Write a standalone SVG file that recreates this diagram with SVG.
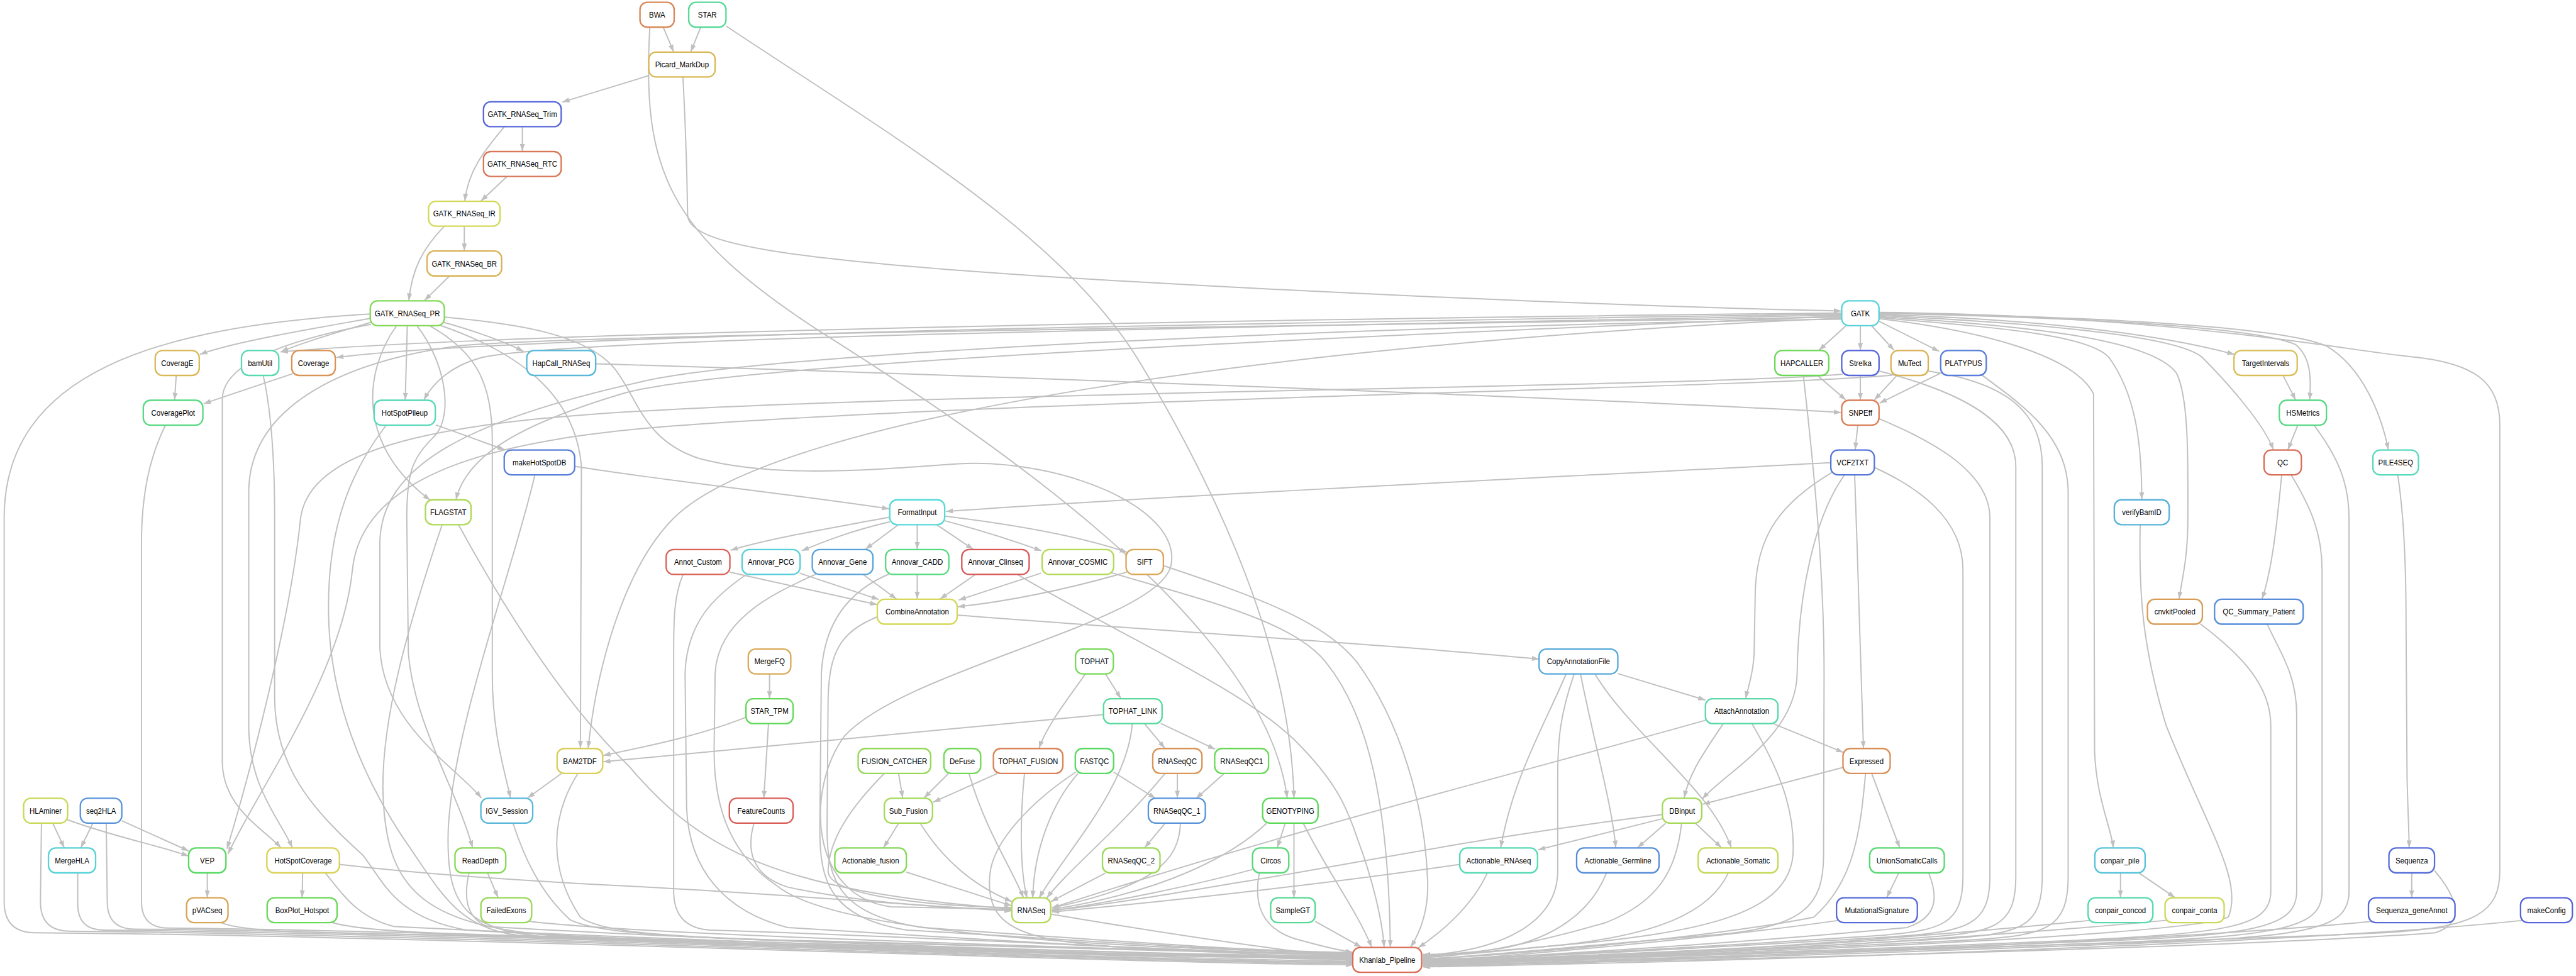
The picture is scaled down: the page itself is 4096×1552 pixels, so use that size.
<svg xmlns="http://www.w3.org/2000/svg" width="4096" height="1552" viewBox="0 0 4096 1552">
<defs>
<marker id="ah" viewBox="0 0 10 7" refX="10" refY="3.5" markerWidth="14" markerHeight="10" markerUnits="userSpaceOnUse" orient="auto"><path d="M0,0 L10,3.5 L0,7 z" fill="#c0c0c0"/></marker>
</defs>
<style>
.n rect{fill:#fff;stroke-width:2.8}
.n text{font-family:"Liberation Sans",Arial,sans-serif;font-size:15.5px;fill:#000;text-anchor:middle;transform-box:fill-box;transform-origin:center;transform:scaleX(0.9)}
.e path{fill:none;stroke:#c0c0c0;stroke-width:2.4;marker-end:url(#ah)}
</style>
<rect width="4096" height="1552" fill="#fff"/>
<g transform="scale(0.82398)">
<g id="edges" class="e">
<path d="M1280 53 L1300 100"/>
<path d="M1352 53 L1333 100"/>
<path d="M1254 53 C1238 330 1290 450 1583 640 C1900 840 2440 1200 2484 1540"/>
<path d="M1401 50 C1700 250 2050 450 2200 700 C2350 950 2490 1250 2497 1540"/>
<path d="M1252 146 L1085 197"/>
<path d="M1318 149 C1326 300 1326 380 1327 416 C1330 470 1500 500 2040 535 C2700 575 3300 595 3553 600"/>
<path d="M1008 245 L1008 292"/>
<path d="M973 245 C935 290 903 330 897 388"/>
<path d="M978 341 L928 388"/>
<path d="M896 437 L896 484"/>
<path d="M857 437 C815 480 795 520 789 580"/>
<path d="M867 533 L819 580"/>
<path d="M716 614 C600 635 450 660 386 684"/>
<path d="M716 622 C640 645 580 662 542 679"/>
<path d="M856 622 C920 640 975 660 1010 678"/>
<path d="M786 629 L782 772"/>
<path d="M765 629 C700 720 690 860 830 965"/>
<path d="M716 626 C560 655 430 700 429 770 L429 1470 C430 1560 510 1600 542 1636"/>
<path d="M850 628 C1000 680 1110 760 1122 900 L1120 1444"/>
<path d="M805 629 C860 700 875 800 840 840 C795 885 785 910 785 1000 L788 1260 C800 1400 880 1520 912 1636"/>
<path d="M830 629 C920 680 950 740 950 850 L950 1300 C950 1420 975 1490 985 1540"/>
<path d="M858 612 C1000 625 1130 645 1185 710 C1230 765 1240 850 1350 885 C1500 925 1700 905 1850 895 C2050 885 2280 980 2260 1090 C2240 1200 1750 1290 1630 1420 C1555 1520 1560 1730 1720 1750 L1952 1755"/>
<path d="M716 606 C300 630 8 720 8 1000 L8 1740 Q8 1800 68 1800 C800 1805 2200 1860 2611 1862"/>
<path d="M3553 604 C2500 615 1000 640 542 679"/>
<path d="M3553 606 C2500 622 1000 645 649 690"/>
<path d="M3553 608 C2500 630 1100 650 930 690 C870 705 835 740 818 772"/>
<path d="M3553 610 C2600 650 1400 700 1200 760 C1000 820 900 880 880 964"/>
<path d="M3553 612 C2500 630 1100 645 880 668 C650 700 480 790 480 950 L480 1400 C480 1520 540 1580 564 1636"/>
<path d="M3553 614 C2500 660 1500 800 1300 1000 C1200 1100 1150 1300 1135 1444"/>
<path d="M3553 616 C2600 630 1500 680 1250 734 C900 810 733 900 733 1050 L733 1250 C740 1400 880 1480 929 1540"/>
<path d="M3562 629 L3510 676"/>
<path d="M3590 629 L3590 676"/>
<path d="M3612 629 L3655 676"/>
<path d="M3626 620 L3742 678"/>
<path d="M3626 607 C3900 615 4150 640 4312 684"/>
<path d="M3626 605 C4000 612 4350 630 4430 665 C4460 690 4460 730 4457 772"/>
<path d="M3626 609 C3900 622 4200 645 4250 690 C4300 740 4370 820 4387 868"/>
<path d="M3626 604 C4000 610 4400 628 4490 668 C4560 710 4595 800 4609 868"/>
<path d="M3626 613 C3850 632 4030 645 4070 690 C4120 760 4133 850 4133 964"/>
<path d="M3626 611 C3900 628 4150 652 4200 720 C4225 770 4222 900 4222 1000 C4222 1080 4210 1120 4205 1156"/>
<path d="M3626 615 C3800 635 4000 680 4040 760 L4042 1450 C4045 1540 4075 1600 4078 1636"/>
<path d="M3626 603 C4200 608 4550 680 4650 688 C4780 700 4824 740 4824 820 L4824 1680 C4824 1760 4780 1790 4600 1800 C3900 1830 3100 1848 2746 1852"/>
<path d="M3508 725 L3562 772"/>
<path d="M3590 725 L3590 772"/>
<path d="M3660 725 L3617 772"/>
<path d="M3745 720 L3627 778"/>
<path d="M1150 702 C1800 722 3000 765 3553 796"/>
<path d="M3480 725 C3500 900 3520 1100 3520 1300 L3519 1650 C3519 1750 3480 1790 3300 1805 C3000 1830 2850 1846 2746 1851"/>
<path d="M3585 821 L3580 868"/>
<path d="M3617 902 C3700 940 3788 1000 3788 1100 L3788 1690 C3788 1784 3750 1796 3620 1806 C3200 1833 2900 1848 2746 1852"/>
<path d="M3626 808 C3700 840 3840 900 3840 1000 L3840 1690 C3840 1785 3800 1798 3650 1808 C3200 1835 2900 1849 2746 1853"/>
<path d="M3626 716 C3800 760 3890 820 3890 900 L3890 1690 C3890 1790 3850 1800 3700 1810 C3300 1836 2900 1850 2746 1855"/>
<path d="M3721 716 C3880 740 3941 800 3941 900 L3941 1690 C3941 1792 3900 1802 3750 1812 C3300 1838 2900 1851 2746 1856"/>
<path d="M3822 722 C3900 780 3991 840 3991 950 L3991 1690 C3991 1794 3950 1805 3800 1814 C3300 1840 2900 1852 2746 1857"/>
<path d="M3533 893 C3000 920 2200 960 1825 987"/>
<path d="M3535 912 C3420 980 3388 1050 3387 1150 L3385 1260 C3384 1300 3372 1330 3369 1348"/>
<path d="M3559 917 C3500 1000 3470 1150 3468 1300 C3466 1420 3330 1490 3285 1542"/>
<path d="M3579 917 C3586 1100 3590 1300 3596 1444"/>
<path d="M1109 900 C1300 930 1500 950 1716 982"/>
<path d="M1032 917 C990 1100 875 1400 865 1600 C860 1760 900 1800 1100 1812 C1600 1830 2300 1848 2611 1846"/>
<path d="M841 820 L974 868"/>
<path d="M745 821 C660 930 632 1050 634 1183 C636 1350 700 1500 780 1620 C850 1720 880 1790 1000 1805 C1500 1830 2300 1848 2611 1848"/>
<path d="M853 1013 C790 1200 730 1400 740 1550 C750 1720 820 1790 1100 1808 C1700 1832 2300 1846 2611 1847"/>
<path d="M885 1013 C960 1150 1080 1350 1215 1480 C1350 1640 1500 1720 1952 1754"/>
<path d="M340 725 L337 772"/>
<path d="M565 721 L393 779"/>
<path d="M319 821 C290 880 273 950 273 1050 L273 1740 Q273 1791 325 1791 C950 1796 2200 1852 2611 1855"/>
<path d="M80 1589 L78 1740 Q78 1797 135 1797 C800 1802 2200 1858 2611 1860"/>
<path d="M205 1589 L207 1740 Q207 1793 260 1793 C900 1798 2200 1855 2611 1857"/>
<path d="M150 1685 L150 1745 Q150 1795 200 1795 C850 1800 2200 1856 2611 1858"/>
<path d="M425 1780 C470 1800 600 1800 900 1805 C1600 1820 2300 1848 2611 1853"/>
<path d="M508 725 C525 800 530 900 530 1000 L530 1350 C532 1480 600 1560 700 1650 C740 1700 760 1770 900 1795 C1500 1830 2200 1845 2611 1851"/>
<path d="M640 1780 C700 1798 850 1802 1100 1808 C1700 1824 2300 1846 2611 1850"/>
<path d="M628 1685 C665 1730 690 1770 760 1788 C1300 1815 2200 1845 2611 1849"/>
<path d="M905 1685 C895 1730 898 1770 940 1788 C1400 1815 2200 1843 2611 1845"/>
<path d="M1020 1778 C1200 1800 1900 1825 2611 1843"/>
<path d="M990 1589 C1010 1650 1040 1720 1100 1775 C1150 1800 1300 1808 1500 1815 C2000 1830 2400 1842 2611 1844"/>
<path d="M1115 1493 C1060 1580 1060 1680 1120 1770 C1160 1800 1300 1808 1500 1814 C2000 1830 2400 1841 2611 1843"/>
<path d="M1318 1109 C1300 1150 1300 1200 1300 1260 L1300 1720 Q1300 1790 1370 1795 C1900 1812 2300 1838 2611 1842"/>
<path d="M1440 1109 C1380 1150 1325 1200 1322 1300 L1325 1560 C1330 1680 1400 1760 1520 1790 C2000 1820 2300 1838 2611 1841"/>
<path d="M1575 1108 C1480 1150 1385 1200 1380 1300 L1378 1450 C1378 1560 1410 1650 1500 1710 C1600 1790 2000 1826 2611 1840"/>
<path d="M1715 1108 C1640 1140 1590 1200 1585 1300 L1582 1600 C1582 1700 1600 1770 1750 1795 C2100 1815 2400 1838 2611 1839"/>
<path d="M1694 1190 C1620 1220 1600 1260 1598 1350 L1596 1600 C1596 1700 1620 1765 1780 1790 C2100 1812 2400 1836 2611 1838"/>
<path d="M2076 1490 C2000 1540 1915 1620 1910 1690 C1900 1810 2000 1822 2300 1835 C2450 1843 2550 1847 2611 1848"/>
<path d="M2027 1764 C2300 1810 2500 1838 2611 1847"/>
<path d="M2430 1685 C2420 1740 2430 1790 2500 1812 C2550 1826 2590 1835 2611 1838"/>
<path d="M1962 1108 C2150 1220 2400 1330 2500 1430 C2580 1510 2600 1560 2620 1620 C2650 1700 2668 1780 2671 1828"/>
<path d="M2140 1104 C2330 1160 2500 1200 2560 1280 C2640 1380 2680 1550 2683 1828"/>
<path d="M2246 1092 C2420 1150 2560 1200 2620 1280 C2700 1390 2750 1550 2755 1700 C2757 1760 2740 1800 2722 1828"/>
<path d="M3038 1300 C3010 1380 3006 1430 3006 1500 L3006 1680 C3006 1780 2900 1835 2746 1844"/>
<path d="M3381 1397 C3430 1480 3465 1560 3460 1650 C3450 1760 3300 1800 3000 1825 C2900 1835 2800 1845 2746 1847"/>
<path d="M3245 1589 C3235 1680 3200 1740 3100 1780 C2950 1825 2820 1845 2746 1848"/>
<path d="M3600 1493 C3590 1600 3580 1700 3500 1770 C3300 1810 2900 1845 2746 1850"/>
<path d="M2870 1685 C2840 1750 2780 1800 2737 1829"/>
<path d="M3100 1685 C3070 1760 3000 1810 2900 1830 C2830 1840 2780 1842 2746 1842"/>
<path d="M3335 1685 C3300 1760 3200 1805 3000 1825 C2880 1836 2800 1843 2746 1845"/>
<path d="M3612 1493 L3666 1636"/>
<path d="M3557 1481 L3286 1552"/>
<path d="M3664 1685 L3641 1732"/>
<path d="M3722 1685 C3740 1730 3740 1770 3680 1790 C3300 1825 2900 1848 2746 1854"/>
<path d="M3550 1776 C3300 1812 2900 1846 2746 1856"/>
<path d="M4130 1012 C4127 1150 4135 1250 4180 1400 C4260 1600 4330 1700 4300 1770 C4200 1810 3200 1845 2746 1858"/>
<path d="M4246 1204 C4320 1260 4382 1320 4382 1400 L4382 1720 C4382 1790 4300 1800 4000 1815 C3400 1840 2900 1855 2746 1858"/>
<path d="M4375 1204 C4400 1260 4432 1300 4432 1380 L4432 1720 C4432 1792 4350 1806 4000 1818 C3400 1842 2900 1856 2746 1859"/>
<path d="M4421 916 C4460 980 4481 1030 4481 1100 L4481 1720 C4481 1795 4400 1808 4000 1822 C3400 1845 2900 1858 2746 1860"/>
<path d="M4403 917 C4395 1000 4385 1100 4365 1156"/>
<path d="M4434 821 L4415 868"/>
<path d="M4465 820 C4510 880 4533 930 4533 1000 L4533 1720 C4533 1800 4450 1810 4000 1825 C3400 1848 2900 1860 2746 1862"/>
<path d="M4406 725 L4430 772"/>
<path d="M4627 917 C4640 1000 4643 1100 4643 1200 L4645 1500 C4647 1580 4649 1610 4649 1636"/>
<path d="M4654 1685 L4654 1732"/>
<path d="M4698 1680 C4740 1730 4760 1780 4700 1800 C4300 1830 3300 1852 2746 1864"/>
<path d="M4580 1778 C4200 1815 3300 1850 2746 1865"/>
<path d="M4870 1776 C4500 1816 3500 1853 2746 1866"/>
<path d="M4092 1685 L4092 1732"/>
<path d="M4128 1685 L4197 1732"/>
<path d="M4035 1776 C3700 1810 3200 1845 2746 1860"/>
<path d="M4182 1776 C3800 1812 3200 1847 2746 1861"/>
<path d="M1734 1589 L1705 1636"/>
<path d="M1776 1589 C1820 1660 1880 1710 1953 1740"/>
<path d="M1749 1683 L1952 1748"/>
<path d="M1734 1493 L1742 1540"/>
<path d="M1830 1493 L1783 1540"/>
<path d="M1924 1493 L1801 1548"/>
<path d="M1706 1493 C1640 1560 1600 1620 1598 1680 C1596 1730 1800 1748 1952 1752"/>
<path d="M1870 1493 C1900 1600 1955 1680 1975 1733"/>
<path d="M1977 1493 C1968 1580 1968 1680 1982 1733"/>
<path d="M2080 1493 C2030 1550 1995 1640 1993 1733"/>
<path d="M2185 1397 C2175 1520 2060 1640 2005 1733"/>
<path d="M2248 1493 C2160 1600 2060 1680 2020 1733"/>
<path d="M2278 1589 C2275 1660 2230 1710 2030 1752"/>
<path d="M2248 1589 L2209 1636"/>
<path d="M2133 1685 L2028 1740"/>
<path d="M2272 1493 L2272 1540"/>
<path d="M2362 1493 L2308 1541"/>
<path d="M2149 1490 L2230 1541"/>
<path d="M2209 1397 L2248 1444"/>
<path d="M2240 1396 L2345 1446"/>
<path d="M2130 1379 C1700 1420 1400 1450 1164 1470"/>
<path d="M1440 1384 C1350 1420 1250 1440 1164 1458"/>
<path d="M2133 1300 L2163 1348"/>
<path d="M2095 1300 C2060 1350 2020 1400 2005 1444"/>
<path d="M1485 1301 L1485 1348"/>
<path d="M1483 1397 L1474 1540"/>
<path d="M1455 1589 C1440 1640 1450 1690 1520 1712 C1650 1740 1800 1752 1952 1756"/>
<path d="M655 1668 C800 1685 1000 1700 1250 1712 C1500 1725 1800 1750 1952 1758"/>
<path d="M2444 1589 C2380 1650 2250 1720 2030 1755"/>
<path d="M2417 1678 C2300 1710 2150 1740 2030 1758"/>
<path d="M3291 1390 C2900 1500 2500 1600 2030 1752"/>
<path d="M3208 1572 C2900 1610 2700 1650 2480 1688 C2300 1718 2150 1745 2030 1757"/>
<path d="M2817 1668 C2600 1700 2300 1735 2030 1760"/>
<path d="M2480 1589 L2465 1636"/>
<path d="M2497 1589 L2497 1732"/>
<path d="M2515 1589 C2560 1680 2620 1760 2647 1828"/>
<path d="M2538 1778 L2627 1828"/>
<path d="M3556 722 C3300 745 2000 755 1300 790 C900 810 600 850 580 1000 C560 1200 480 1500 438 1638"/>
<path d="M3652 724 C3400 748 2000 770 1300 822 C1000 845 700 900 680 1100 C660 1300 500 1520 440 1648"/>
<path d="M130 1582 C220 1615 300 1630 364 1652"/>
<path d="M235 1584 L364 1642"/>
<path d="M102 1589 L124 1636"/>
<path d="M179 1589 L156 1636"/>
<path d="M400 1685 L400 1732"/>
<path d="M584 1685 L583 1732"/>
<path d="M941 1685 L961 1732"/>
<path d="M1083 1493 L1018 1540"/>
<path d="M1717 998 C1600 1020 1480 1040 1410 1062"/>
<path d="M1717 1007 C1640 1025 1590 1045 1547 1063"/>
<path d="M1733 1013 L1670 1060"/>
<path d="M1770 1013 L1770 1060"/>
<path d="M1808 1013 L1878 1060"/>
<path d="M1823 1005 C1900 1025 1960 1045 2010 1063"/>
<path d="M1823 996 C1980 1015 2100 1040 2175 1066"/>
<path d="M1408 1104 L1693 1167"/>
<path d="M1543 1106 L1696 1157"/>
<path d="M1666 1109 L1730 1156"/>
<path d="M1770 1109 L1770 1156"/>
<path d="M1882 1109 L1814 1156"/>
<path d="M2009 1106 L1850 1158"/>
<path d="M2175 1104 C2050 1140 1950 1160 1848 1171"/>
<path d="M1847 1187 C2200 1215 2700 1245 2970 1272"/>
<path d="M3122 1300 L3291 1351"/>
<path d="M3022 1301 C2980 1400 2920 1500 2896 1636"/>
<path d="M3050 1301 C3080 1450 3110 1550 3118 1636"/>
<path d="M3078 1301 C3150 1420 3300 1520 3341 1636"/>
<path d="M3423 1397 L3557 1452"/>
<path d="M3325 1397 C3290 1450 3260 1490 3250 1540"/>
<path d="M3208 1580 L2968 1640"/>
<path d="M3214 1589 L3160 1636"/>
<path d="M3272 1589 L3322 1636"/>
</g>
<g id="GATK_RNASeq_Trim" class="n"><rect x="933" y="196.5" width="150" height="48" rx="14" stroke="#5766d9"/><text x="1008" y="226">GATK_RNASeq_Trim</text></g>
<g id="BWA" class="n"><rect x="1235" y="4.5" width="66" height="48" rx="14" stroke="#d98757"/><text x="1268" y="34">BWA</text></g>
<g id="STAR" class="n"><rect x="1329" y="4.5" width="72" height="48" rx="14" stroke="#57d998"/><text x="1365" y="34">STAR</text></g>
<g id="Picard_MarkDup" class="n"><rect x="1252" y="100.5" width="128" height="48" rx="14" stroke="#d9b857"/><text x="1316" y="130">Picard_MarkDup</text></g>
<g id="GATK_RNASeq_RTC" class="n"><rect x="933" y="292.5" width="150" height="48" rx="14" stroke="#d97757"/><text x="1008" y="322">GATK_RNASeq_RTC</text></g>
<g id="GATK_RNASeq_IR" class="n"><rect x="827" y="388.5" width="138" height="48" rx="14" stroke="#d2d957"/><text x="896" y="418">GATK_RNASeq_IR</text></g>
<g id="GATK_RNASeq_BR" class="n"><rect x="824" y="484.5" width="144" height="48" rx="14" stroke="#d9b257"/><text x="896" y="514">GATK_RNASeq_BR</text></g>
<g id="GATK_RNASeq_PR" class="n"><rect x="714.5" y="580.5" width="143" height="48" rx="14" stroke="#82d957"/><text x="786" y="610">GATK_RNASeq_PR</text></g>
<g id="GATK" class="n"><rect x="3554" y="580.5" width="72" height="48" rx="14" stroke="#57d2d9"/><text x="3590" y="610">GATK</text></g>
<g id="CoveragE" class="n"><rect x="299.5" y="676.5" width="85" height="48" rx="14" stroke="#d9b857"/><text x="342" y="706">CoveragE</text></g>
<g id="bamUtil" class="n"><rect x="466" y="676.5" width="72" height="48" rx="14" stroke="#57d9b2"/><text x="502" y="706">bamUtil</text></g>
<g id="Coverage" class="n"><rect x="563" y="676.5" width="84" height="48" rx="14" stroke="#d99457"/><text x="605" y="706">Coverage</text></g>
<g id="HapCall_RNASeq" class="n"><rect x="1016.5" y="676.5" width="133" height="48" rx="14" stroke="#57b8d9"/><text x="1083" y="706">HapCall_RNASeq</text></g>
<g id="HAPCALLER" class="n"><rect x="3425" y="676.5" width="104" height="48" rx="14" stroke="#6dd957"/><text x="3477" y="706">HAPCALLER</text></g>
<g id="Strelka" class="n"><rect x="3554" y="676.5" width="72" height="48" rx="14" stroke="#5766d9"/><text x="3590" y="706">Strelka</text></g>
<g id="MuTect" class="n"><rect x="3649" y="676.5" width="72" height="48" rx="14" stroke="#d9b257"/><text x="3685" y="706">MuTect</text></g>
<g id="PLATYPUS" class="n"><rect x="3745" y="676.5" width="88" height="48" rx="14" stroke="#577ed9"/><text x="3789" y="706">PLATYPUS</text></g>
<g id="TargetIntervals" class="n"><rect x="4311" y="676.5" width="122" height="48" rx="14" stroke="#d9bf57"/><text x="4372" y="706">TargetIntervals</text></g>
<g id="CoveragePlot" class="n"><rect x="276.5" y="772.5" width="115" height="48" rx="14" stroke="#57d982"/><text x="334" y="802">CoveragePlot</text></g>
<g id="HotSpotPileup" class="n"><rect x="722" y="772.5" width="118" height="48" rx="14" stroke="#57d9b8"/><text x="781" y="802">HotSpotPileup</text></g>
<g id="SNPEff" class="n"><rect x="3554" y="772.5" width="72" height="48" rx="14" stroke="#d97e57"/><text x="3590" y="802">SNPEff</text></g>
<g id="HSMetrics" class="n"><rect x="4398.5" y="772.5" width="91" height="48" rx="14" stroke="#57d986"/><text x="4444" y="802">HSMetrics</text></g>
<g id="makeHotSpotDB" class="n"><rect x="973" y="868.5" width="136" height="48" rx="14" stroke="#577ed9"/><text x="1041" y="898">makeHotSpotDB</text></g>
<g id="VCF2TXT" class="n"><rect x="3533" y="868.5" width="84" height="48" rx="14" stroke="#5777d9"/><text x="3575" y="898">VCF2TXT</text></g>
<g id="QC" class="n"><rect x="4369" y="868.5" width="72" height="48" rx="14" stroke="#d96d57"/><text x="4405" y="898">QC</text></g>
<g id="PILE4SEQ" class="n"><rect x="4579" y="868.5" width="88" height="48" rx="14" stroke="#57d9bd"/><text x="4623" y="898">PILE4SEQ</text></g>
<g id="FLAGSTAT" class="n"><rect x="821" y="964.5" width="88" height="48" rx="14" stroke="#aed957"/><text x="865" y="994">FLAGSTAT</text></g>
<g id="FormatInput" class="n"><rect x="1717" y="964.5" width="106" height="48" rx="14" stroke="#57d9d9"/><text x="1770" y="994">FormatInput</text></g>
<g id="verifyBamID" class="n"><rect x="4080" y="964.5" width="106" height="48" rx="14" stroke="#57b2d9"/><text x="4133" y="994">verifyBamID</text></g>
<g id="Annot_Custom" class="n"><rect x="1285.5" y="1060.5" width="123" height="48" rx="14" stroke="#d96257"/><text x="1347" y="1090">Annot_Custom</text></g>
<g id="Annovar_PCG" class="n"><rect x="1432" y="1060.5" width="112" height="48" rx="14" stroke="#57ced9"/><text x="1488" y="1090">Annovar_PCG</text></g>
<g id="Annovar_Gene" class="n"><rect x="1567.5" y="1060.5" width="117" height="48" rx="14" stroke="#57a3d9"/><text x="1626" y="1090">Annovar_Gene</text></g>
<g id="Annovar_CADD" class="n"><rect x="1709" y="1060.5" width="122" height="48" rx="14" stroke="#57d982"/><text x="1770" y="1090">Annovar_CADD</text></g>
<g id="Annovar_Clinseq" class="n"><rect x="1856" y="1060.5" width="130" height="48" rx="14" stroke="#d95757"/><text x="1921" y="1090">Annovar_Clinseq</text></g>
<g id="Annovar_COSMIC" class="n"><rect x="2011" y="1060.5" width="138" height="48" rx="14" stroke="#b2d957"/><text x="2080" y="1090">Annovar_COSMIC</text></g>
<g id="SIFT" class="n"><rect x="2173" y="1060.5" width="72" height="48" rx="14" stroke="#d9a557"/><text x="2209" y="1090">SIFT</text></g>
<g id="CombineAnnotation" class="n"><rect x="1693" y="1156.5" width="154" height="48" rx="14" stroke="#d5d957"/><text x="1770" y="1186">CombineAnnotation</text></g>
<g id="cnvkitPooled" class="n"><rect x="4144" y="1156.5" width="106" height="48" rx="14" stroke="#d99c57"/><text x="4197" y="1186">cnvkitPooled</text></g>
<g id="QC_Summary_Patient" class="n"><rect x="4273.5" y="1156.5" width="171" height="48" rx="14" stroke="#578dd9"/><text x="4359" y="1186">QC_Summary_Patient</text></g>
<g id="MergeFQ" class="n"><rect x="1444" y="1252.5" width="82" height="48" rx="14" stroke="#d9a957"/><text x="1485" y="1282">MergeFQ</text></g>
<g id="TOPHAT" class="n"><rect x="2075.5" y="1252.5" width="73" height="48" rx="14" stroke="#77d957"/><text x="2112" y="1282">TOPHAT</text></g>
<g id="CopyAnnotationFile" class="n"><rect x="2970" y="1252.5" width="152" height="48" rx="14" stroke="#57a9d9"/><text x="3046" y="1282">CopyAnnotationFile</text></g>
<g id="STAR_TPM" class="n"><rect x="1439.5" y="1348.5" width="91" height="48" rx="14" stroke="#62d957"/><text x="1485" y="1378">STAR_TPM</text></g>
<g id="TOPHAT_LINK" class="n"><rect x="2129.5" y="1348.5" width="113" height="48" rx="14" stroke="#57d99c"/><text x="2186" y="1378">TOPHAT_LINK</text></g>
<g id="AttachAnnotation" class="n"><rect x="3291" y="1348.5" width="140" height="48" rx="14" stroke="#57d9a9"/><text x="3361" y="1378">AttachAnnotation</text></g>
<g id="BAM2TDF" class="n"><rect x="1075" y="1444.5" width="88" height="48" rx="14" stroke="#d9ce57"/><text x="1119" y="1474">BAM2TDF</text></g>
<g id="FUSION_CATCHER" class="n"><rect x="1656" y="1444.5" width="140" height="48" rx="14" stroke="#94d957"/><text x="1726" y="1474">FUSION_CATCHER</text></g>
<g id="DeFuse" class="n"><rect x="1821.5" y="1444.5" width="71" height="48" rx="14" stroke="#71d957"/><text x="1857" y="1474">DeFuse</text></g>
<g id="TOPHAT_FUSION" class="n"><rect x="1917" y="1444.5" width="134" height="48" rx="14" stroke="#d98257"/><text x="1984" y="1474">TOPHAT_FUSION</text></g>
<g id="FASTQC" class="n"><rect x="2075" y="1444.5" width="74" height="48" rx="14" stroke="#57d962"/><text x="2112" y="1474">FASTQC</text></g>
<g id="RNASeqQC" class="n"><rect x="2224.5" y="1444.5" width="95" height="48" rx="14" stroke="#d99457"/><text x="2272" y="1474">RNASeqQC</text></g>
<g id="RNASeqQC1" class="n"><rect x="2344" y="1444.5" width="104" height="48" rx="14" stroke="#68d957"/><text x="2396" y="1474">RNASeqQC1</text></g>
<g id="Expressed" class="n"><rect x="3556.5" y="1444.5" width="91" height="48" rx="14" stroke="#d98f57"/><text x="3602" y="1474">Expressed</text></g>
<g id="HLAminer" class="n"><rect x="45.5" y="1540.5" width="85" height="48" rx="14" stroke="#c8d957"/><text x="88" y="1570">HLAminer</text></g>
<g id="seq2HLA" class="n"><rect x="155" y="1540.5" width="80" height="48" rx="14" stroke="#5794d9"/><text x="195" y="1570">seq2HLA</text></g>
<g id="IGV_Session" class="n"><rect x="928" y="1540.5" width="100" height="48" rx="14" stroke="#57b8d9"/><text x="978" y="1570">IGV_Session</text></g>
<g id="FeatureCounts" class="n"><rect x="1407.5" y="1540.5" width="123" height="48" rx="14" stroke="#d95d57"/><text x="1469" y="1570">FeatureCounts</text></g>
<g id="Sub_Fusion" class="n"><rect x="1706.5" y="1540.5" width="93" height="48" rx="14" stroke="#a3d957"/><text x="1753" y="1570">Sub_Fusion</text></g>
<g id="RNASeqQC_1" class="n"><rect x="2216" y="1540.5" width="110" height="48" rx="14" stroke="#5794d9"/><text x="2271" y="1570">RNASeqQC_1</text></g>
<g id="GENOTYPING" class="n"><rect x="2436.5" y="1540.5" width="107" height="48" rx="14" stroke="#5bd957"/><text x="2490" y="1570">GENOTYPING</text></g>
<g id="DBinput" class="n"><rect x="3208" y="1540.5" width="76" height="48" rx="14" stroke="#a3d957"/><text x="3246" y="1570">DBinput</text></g>
<g id="MergeHLA" class="n"><rect x="93.5" y="1636.5" width="91" height="48" rx="14" stroke="#57d2d9"/><text x="139" y="1666">MergeHLA</text></g>
<g id="VEP" class="n"><rect x="364" y="1636.5" width="72" height="48" rx="14" stroke="#57d962"/><text x="400" y="1666">VEP</text></g>
<g id="HotSpotCoverage" class="n"><rect x="515" y="1636.5" width="140" height="48" rx="14" stroke="#d9d257"/><text x="585" y="1666">HotSpotCoverage</text></g>
<g id="ReadDepth" class="n"><rect x="878" y="1636.5" width="98" height="48" rx="14" stroke="#87d957"/><text x="927" y="1666">ReadDepth</text></g>
<g id="Actionable_fusion" class="n"><rect x="1611" y="1636.5" width="138" height="48" rx="14" stroke="#82d957"/><text x="1680" y="1666">Actionable_fusion</text></g>
<g id="RNASeqQC_2" class="n"><rect x="2127.5" y="1636.5" width="111" height="48" rx="14" stroke="#9cd957"/><text x="2183" y="1666">RNASeqQC_2</text></g>
<g id="Circos" class="n"><rect x="2417" y="1636.5" width="70" height="48" rx="14" stroke="#57d977"/><text x="2452" y="1666">Circos</text></g>
<g id="Actionable_RNAseq" class="n"><rect x="2817" y="1636.5" width="150" height="48" rx="14" stroke="#57d9b4"/><text x="2892" y="1666">Actionable_RNAseq</text></g>
<g id="Actionable_Germline" class="n"><rect x="3042.5" y="1636.5" width="159" height="48" rx="14" stroke="#578dd9"/><text x="3122" y="1666">Actionable_Germline</text></g>
<g id="Actionable_Somatic" class="n"><rect x="3277" y="1636.5" width="154" height="48" rx="14" stroke="#c3d957"/><text x="3354" y="1666">Actionable_Somatic</text></g>
<g id="UnionSomaticCalls" class="n"><rect x="3608" y="1636.5" width="144" height="48" rx="14" stroke="#57d971"/><text x="3680" y="1666">UnionSomaticCalls</text></g>
<g id="conpair_pile" class="n"><rect x="4042.5" y="1636.5" width="97" height="48" rx="14" stroke="#57c3d9"/><text x="4091" y="1666">conpair_pile</text></g>
<g id="Sequenza" class="n"><rect x="4610" y="1636.5" width="88" height="48" rx="14" stroke="#576dd9"/><text x="4654" y="1666">Sequenza</text></g>
<g id="pVACseq" class="n"><rect x="360" y="1732.5" width="80" height="48" rx="14" stroke="#d9a557"/><text x="400" y="1762">pVACseq</text></g>
<g id="BoxPlot_Hotspot" class="n"><rect x="515.5" y="1732.5" width="135" height="48" rx="14" stroke="#68d957"/><text x="583" y="1762">BoxPlot_Hotspot</text></g>
<g id="FailedExons" class="n"><rect x="928" y="1732.5" width="98" height="48" rx="14" stroke="#98d957"/><text x="977" y="1762">FailedExons</text></g>
<g id="RNASeq" class="n"><rect x="1952.5" y="1732.5" width="75" height="48" rx="14" stroke="#b2d957"/><text x="1990" y="1762">RNASeq</text></g>
<g id="SampleGT" class="n"><rect x="2452" y="1732.5" width="86" height="48" rx="14" stroke="#57d994"/><text x="2495" y="1762">SampleGT</text></g>
<g id="MutationalSignature" class="n"><rect x="3544" y="1732.5" width="156" height="48" rx="14" stroke="#576ad9"/><text x="3622" y="1762">MutationalSignature</text></g>
<g id="conpair_concod" class="n"><rect x="4029.5" y="1732.5" width="125" height="48" rx="14" stroke="#57d9ae"/><text x="4092" y="1762">conpair_concod</text></g>
<g id="conpair_conta" class="n"><rect x="4178" y="1732.5" width="114" height="48" rx="14" stroke="#ccd957"/><text x="4235" y="1762">conpair_conta</text></g>
<g id="Sequenza_geneAnnot" class="n"><rect x="4570.5" y="1732.5" width="167" height="48" rx="14" stroke="#576ad9"/><text x="4654" y="1762">Sequenza_geneAnnot</text></g>
<g id="makeConfig" class="n"><rect x="4864" y="1732.5" width="100" height="48" rx="14" stroke="#5764d9"/><text x="4914" y="1762">makeConfig</text></g>
<g id="Khanlab_Pipeline" class="n"><rect x="2610.5" y="1828.5" width="133" height="48" rx="14" stroke="#d96d57"/><text x="2677" y="1858">Khanlab_Pipeline</text></g>
</g>
</svg>
